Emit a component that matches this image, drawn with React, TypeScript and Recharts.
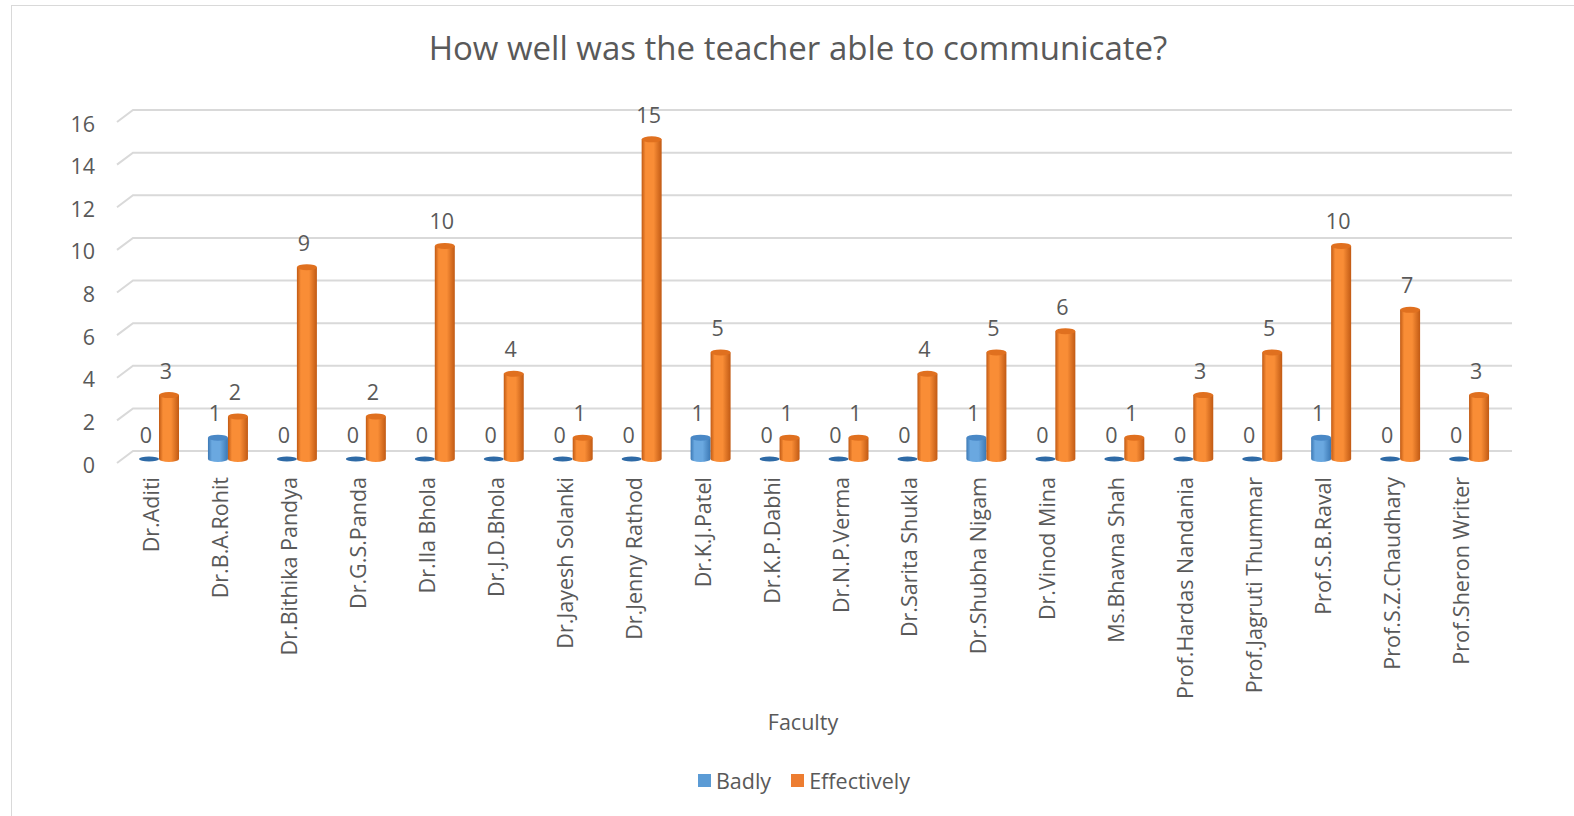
import { BarChart, Bar, XAxis, YAxis, CartesianGrid, LabelList } from 'recharts';

const faculty = [
  'Dr.Aditi', 'Dr.B.A.Rohit', 'Dr.Bithika Pandya', 'Dr.G.S.Panda', 'Dr.Ila Bhola',
  'Dr.J.D.Bhola', 'Dr.Jayesh Solanki', 'Dr.Jenny Rathod', 'Dr.K.J.Patel', 'Dr.K.P.Dabhi',
  'Dr.N.P.Verma', 'Dr.Sarita Shukla', 'Dr.Shubha Nigam', 'Dr.Vinod Mina', 'Ms.Bhavna Shah',
  'Prof.Hardas Nandania', 'Prof.Jagruti Thummar', 'Prof.S.B.Raval', 'Prof.S.Z.Chaudhary', 'Prof.Sheron Writer',
];
const badly = [0, 1, 0, 0, 0, 0, 0, 0, 1, 0, 0, 0, 1, 0, 0, 0, 0, 1, 0, 0];
const effectively = [3, 2, 9, 2, 10, 4, 1, 15, 5, 1, 1, 4, 5, 6, 1, 3, 5, 10, 7, 3];
const yTicks = [0, 2, 4, 6, 8, 10, 12, 14, 16];

const data = faculty.map((name, i) => ({ name, Badly: badly[i], Effectively: effectively[i] }));

const FONT = '"Open Sans", sans-serif';
const TEXT = '#595959';
const FS = 21.5;

const colors = {
  Badly: { edge: '#3b78b4', mid: '#6aa8e0', top: '#4a88c6', flat: '#2e6aa6' },
  Effectively: { edge: '#c15a14', mid: '#f98d36', top: '#e0701f', flat: '#c15a14' },
};

function Cylinder(props: any) {
  const { x, y, width, height, series } = props;
  const c = colors[series as 'Badly' | 'Effectively'];
  const ry = 3;
  const cx = x + width / 2;
  if (!height || height < 1) {
    return <ellipse cx={cx} cy={y + height} rx={width / 2} ry={2.5} fill={c.flat} />;
  }
  const id = 'grad-' + series;
  return (
    <g>
      <path
        d={`M${x},${y} L${x},${y + height} A${width / 2},${ry} 0 0 0 ${x + width},${y + height} L${x + width},${y} Z`}
        fill={`url(#${id})`}
      />
      <ellipse cx={cx} cy={y} rx={width / 2} ry={ry} fill={c.top} />
    </g>
  );
}

function GridLine(props: any) {
  const { x1, x2, y1 } = props;
  return (
    <path
      key={props.key}
      d={`M${x1 - 8},${y1 + 4} L${x1 + 8},${y1 - 8} L${x2 + 8},${y1 - 8}`}
      stroke="#d9d9d9"
      strokeWidth={2}
      fill="none"
    />
  );
}

function YTick(props: any) {
  const { y, payload } = props;
  return (
    <text x={95} y={y + 6} dy="0.35em" textAnchor="end" fill={TEXT} fontSize={FS} fontFamily={FONT}>
      {payload.value}
    </text>
  );
}

function XTick(props: any) {
  const { x, payload } = props;
  return (
    <text
      transform={`translate(${x - 8},477) rotate(-90)`}
      dy="0.35em"
      textAnchor="end"
      fill={TEXT}
      fontSize={FS}
      fontFamily={FONT}
    >
      {payload.value}
    </text>
  );
}

function ValueLabel(props: any) {
  const { x, y, width, value } = props;
  return (
    <text x={x + width / 2 - 3} y={y - 24} dy="0.35em" textAnchor="middle" fill={TEXT} fontSize={FS} fontFamily={FONT}>
      {value}
    </text>
  );
}

function LegendBox() {
  const item = (label: string, color: string) => (
    <span style={{ display: 'inline-flex', alignItems: 'center', marginRight: 20 }}>
      <span style={{ width: 13, height: 13, background: color, display: 'inline-block', marginRight: 5 }} />
      {label}
    </span>
  );
  return (
    <div
      style={{
        position: 'absolute', top: 764, left: 0, width: 1574, lineHeight: '30px',
        fontFamily: FONT, fontSize: FS, color: TEXT, textAlign: 'center', paddingLeft: 54, boxSizing: 'border-box',
      }}
    >
      {item('Badly', '#5b9bd5')}
      {item('Effectively', '#ed7d31')}
    </div>
  );
}

export default function App() {
  return (
    <div style={{ position: 'absolute', left: 0, top: 0, width: 1574, height: 816, background: '#fff' }}>
      <div
        style={{
          position: 'absolute', left: 11, top: 5, width: 1580, height: 820,
          border: '1.5px solid #d9d9d9', boxSizing: 'border-box',
        }}
      />
      <div
        style={{
          position: 'absolute', left: 0, top: 26, width: 1596, textAlign: 'center', lineHeight: '44px',
          fontFamily: FONT, fontSize: 33, color: TEXT,
        }}
      >
        How well was the teacher able to communicate?
      </div>
      <BarChart
        width={1574}
        height={816}
        data={data}
        margin={{ top: 118, right: 70, bottom: 0, left: 0 }}
        barGap={0}
        barSize={20}
        style={{ position: 'absolute', left: 0, top: 0 }}
      >
        <defs>
          {(['Badly', 'Effectively'] as const).map((s) => (
            <linearGradient key={s} id={'grad-' + s} x1="0" y1="0" x2="1" y2="0">
              <stop offset="0%" stopColor={colors[s].edge} />
              <stop offset="20%" stopColor={colors[s].mid} />
              <stop offset="60%" stopColor={colors[s].mid} />
              <stop offset="100%" stopColor={colors[s].edge} />
            </linearGradient>
          ))}
        </defs>
        <CartesianGrid vertical={false} horizontal={GridLine} />
        <XAxis
          dataKey="name"
          interval={0}
          height={357}
          axisLine={false}
          tickLine={false}
          tick={<XTick />}
          label={() => (
            <text x={803} y={722} dy="0.35em" textAnchor="middle" fill={TEXT} fontSize={FS} fontFamily={FONT}>
              Faculty
            </text>
          )}
        />
        <YAxis
          width={125}
          domain={[0, 16]}
          ticks={yTicks}
          axisLine={false}
          tickLine={false}
          tick={<YTick />}
        />
        <Bar dataKey="Badly" isAnimationActive={false} shape={(p: any) => <Cylinder {...p} series="Badly" />}>
          <LabelList dataKey="Badly" content={<ValueLabel />} />
        </Bar>
        <Bar dataKey="Effectively" isAnimationActive={false} shape={(p: any) => <Cylinder {...p} series="Effectively" />}>
          <LabelList dataKey="Effectively" content={<ValueLabel />} />
        </Bar>
      </BarChart>
      <LegendBox />
    </div>
  );
}
